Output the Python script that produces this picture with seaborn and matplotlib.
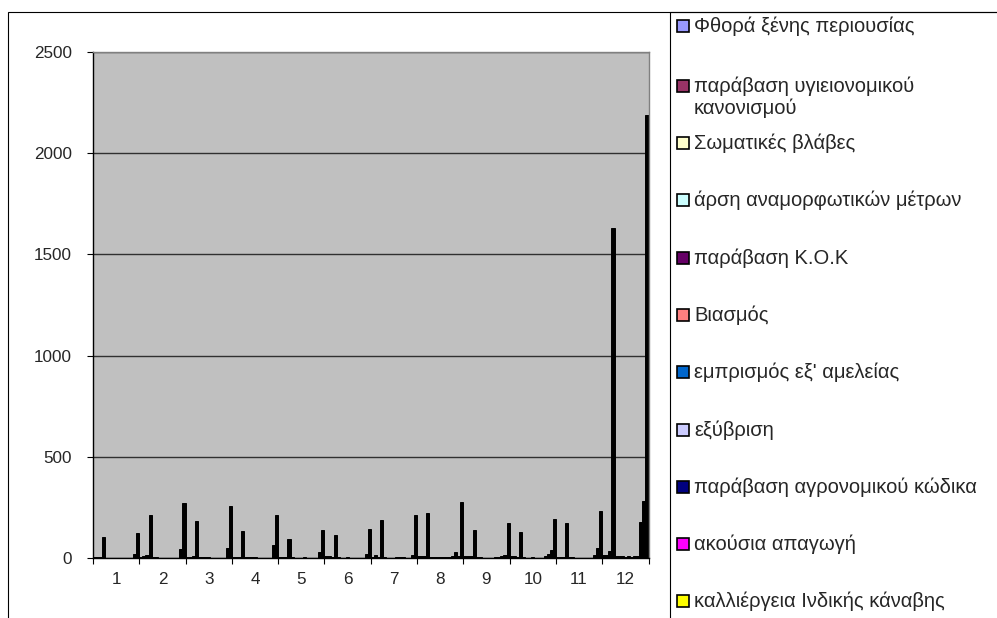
import numpy as np
import pandas as pd
import matplotlib
matplotlib.use("Agg")
import matplotlib.pyplot as plt
from matplotlib.patches import Rectangle
import seaborn as sns

# ---------------- data ----------------
groups = ["1", "2", "3", "4", "5", "6", "7", "8", "9", "10", "11", "12"]

series_names = [
    "Φθορά ξένης περιουσίας",
    "παράβαση υγιειονομικού\nκανονισμού",
    "Σωματικές βλάβες",
    "άρση αναμορφωτικών μέτρων",
    "παράβαση Κ.Ο.Κ",
    "Βιασμός",
    "εμπρισμός εξ' αμελείας",
    "εξύβριση",
    "παράβαση αγρονομικού κώδικα",
    "ακούσια απαγωγή",
    "καλλιέργεια Ινδικής κάναβης",
    "Σειρά 12",
    "Σειρά 13",
    "Σειρά 14",
    "Σύνολο",
]

# legend swatch colours (Excel default series palette)
series_colors = [
    "#9999FF", "#993366", "#FFFFCC", "#CCFFFF", "#660066", "#FF8080",
    "#0066CC", "#CCCCFF", "#000080", "#FF00FF", "#FFFF00", "#00FFFF",
    "#800080", "#800000", "#008080",
]

fthora       = [3, 5, 3, 5, 4, 8, 3, 10, 8, 8, 6, 13]
ygeionomikos = [4, 8, 5, 5, 6, 10, 13, 11, 8, 8, 6, 13]
somatikes    = [5, 13, 11, 6, 6, 4, 6, 8, 8, 5, 6, 36]
arsi         = [102, 211, 181, 135, 95, 112, 186, 221, 140, 127, 171, 1630]
kok          = [0, 5, 6, 4, 5, 3, 5, 6, 5, 3, 6, 8]
viasmos      = [0, 4, 5, 3, 0, 0, 0, 5, 5, 0, 6, 8]
emprismos    = [0, 0, 4, 3, 0, 0, 0, 4, 0, 0, 0, 8]
exyvrisi     = [0, 0, 5, 3, 0, 5, 0, 5, 0, 5, 0, 6]
agronomikos  = [0, 0, 0, 0, 6, 0, 4, 6, 0, 0, 0, 8]
apagogi      = [0, 0, 0, 0, 0, 0, 4, 4, 0, 0, 0, 6]
kanavi       = [0, 0, 0, 0, 0, 0, 4, 6, 5, 0, 0, 8]
seira12      = [0, 0, 0, 0, 0, 0, 0, 8, 6, 10, 0, 8]
seira13      = [0, 0, 0, 0, 0, 0, 0, 30, 8, 20, 13, 178]
seira14      = [20, 43, 49, 66, 28, 20, 16, 8, 16, 41, 49, 280]
synolo       = [124, 273, 255, 211, 140, 142, 214, 277, 171, 191, 234, 2190]

series_values = [fthora, ygeionomikos, somatikes, arsi, kok, viasmos,
                 emprismos, exyvrisi, agronomikos, apagogi, kanavi,
                 seira12, seira13, seira14, synolo]

yticks = [0, 500, 1000, 1500, 2000, 2500]

rows = []
for name, vals in zip(series_names, series_values):
    for g, v in zip(groups, vals):
        rows.append({"group": g, "series": name, "value": v})
df = pd.DataFrame(rows)

# ---------------- figure ----------------
sns.set_style("white")
plt.rcParams["font.family"] = ["Liberation Sans", "DejaVu Sans"]

W, H = 997, 618
fig = plt.figure(figsize=(W / 100, H / 100), dpi=100)

ax_l, ax_r, ax_t, ax_b = 93, 648.5, 52, 558
ax = fig.add_axes([ax_l / W, 1 - ax_b / H, (ax_r - ax_l) / W, (ax_b - ax_t) / H])
ax.set_facecolor("#C0C0C0")

# the bars are so narrow that they render as solid black in the reference
sns.barplot(data=df, x="group", y="value", hue="series", order=groups,
            hue_order=series_names, palette=["black"] * len(series_names),
            width=1.0, saturation=1, edgecolor="black", linewidth=0.7,
            legend=False, errorbar=None, ax=ax)

ax.set_xlim(-0.5, len(groups) - 0.5)
ax.set_ylim(0, 2500)
ax.set_xlabel("")
ax.set_ylabel("")

# y axis
ax.set_yticks(yticks)
ax.set_yticklabels([str(t) for t in yticks], fontsize=12.3)
ax.yaxis.grid(True, color="#303030", linewidth=1.0)
ax.set_axisbelow(True)
ax.tick_params(axis="y", direction="out", length=4, width=0.8, color="black",
               pad=11, left=True)

# x axis: ticks at boundaries, labels at centers
bounds = np.arange(len(groups) + 1) - 0.5
ax.set_xticks(bounds)
ax.set_xticklabels([""] * len(bounds))
ax.set_xticks(np.arange(len(groups)), minor=True)
ax.set_xticklabels(groups, minor=True, fontsize=12.3)
ax.tick_params(axis="x", which="major", direction="out", length=4, width=0.8,
               color="black", bottom=True)
ax.tick_params(axis="x", which="minor", length=0, pad=10)

for s in ["left", "bottom"]:
    ax.spines[s].set_color("black")
    ax.spines[s].set_linewidth(1.0)
for s in ["top", "right"]:
    ax.spines[s].set_color("#808080")
    ax.spines[s].set_linewidth(1.0)

# outer chart border (extends beyond the visible crop)
fig.patches.append(Rectangle((8 / W, -0.1), 1.2, 1 - 12 / H + 0.1,
                             transform=fig.transFigure, fill=False,
                             edgecolor="black", linewidth=0.8))
# legend frame
fig.patches.append(Rectangle((670 / W, -0.1), 1.2, 1 - 12 / H + 0.1,
                             transform=fig.transFigure, fill=False,
                             edgecolor="black", linewidth=0.8))

# legend entries (first 11 visible)
entry_y = [26, 86, 143, 200, 258, 315, 372, 430, 487, 544, 601]
for name, color, y in zip(series_names[:11], series_colors[:11], entry_y):
    fig.patches.append(Rectangle((677 / W, 1 - (y + 6) / H), 12 / W, 12 / H,
                                 transform=fig.transFigure, facecolor=color,
                                 edgecolor="black", linewidth=1.2))
    for j, line in enumerate(name.split("\n")):
        fig.text(694 / W, 1 - (y + j * 22) / H, line, fontsize=14.5,
                 ha="left", va="center")

fig.savefig("out.png", dpi=100)
